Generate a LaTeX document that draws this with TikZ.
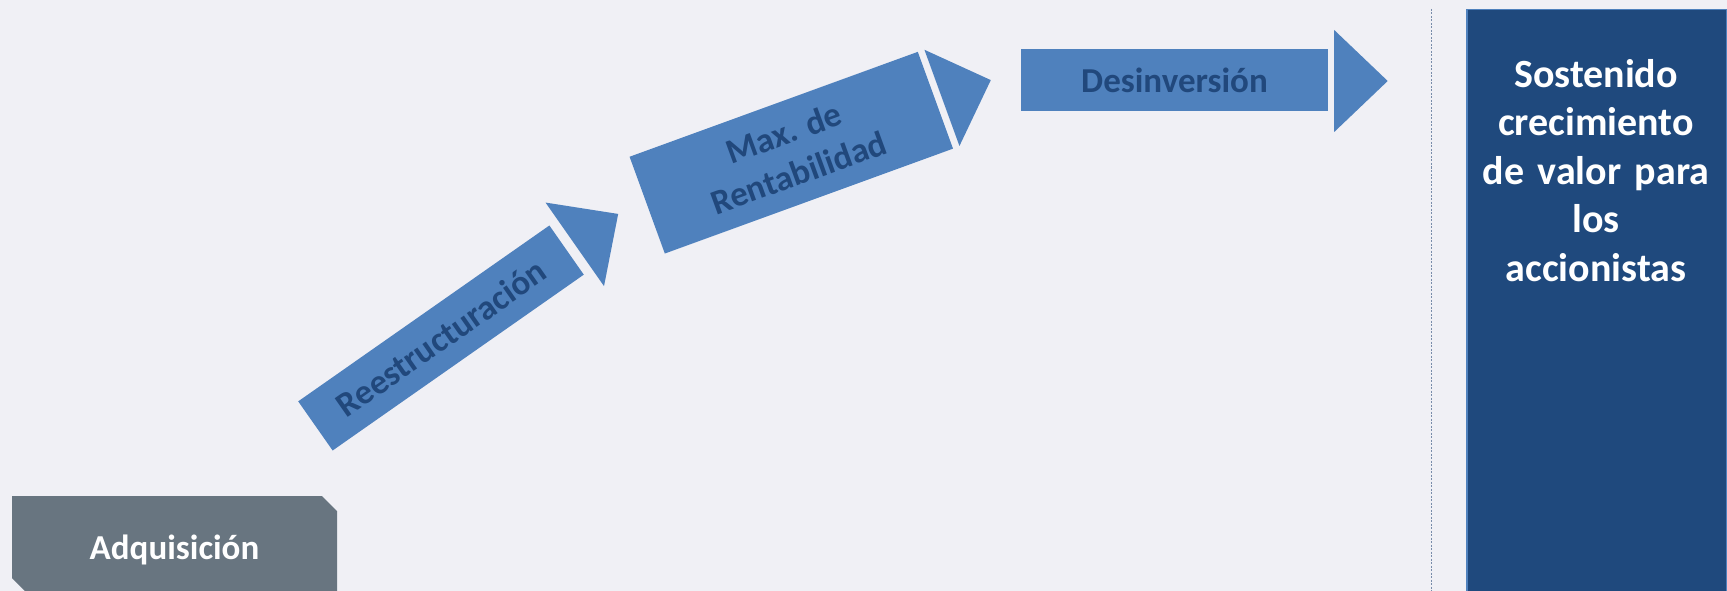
\documentclass[tikz,border=0pt]{standalone}
\usepackage{fontspec}
\setmainfont{Carlito}
\definecolor{bg}{RGB}{240,240,245}
\definecolor{arrowblue}{RGB}{79,129,189}
\definecolor{textblue}{RGB}{33,72,124}
\definecolor{navy}{RGB}{31,73,125}
\definecolor{slate}{RGB}{104,117,128}
\definecolor{dashcol}{RGB}{120,140,170}
\begin{document}
\begin{tikzpicture}[x=1pt,y=-1pt,
  arrowbody/.style={fill=arrowblue, inner sep=0pt, font=\fontsize{35}{42.5}\selectfont\bfseries, text=textblue, align=center},
  arrowhead/.style={fill=arrowblue},
  whitetext/.style={text=white, inner sep=0pt, align=center}]
\fill[bg] (0,0) rectangle (1727,591);
\useasboundingbox (0,0) rectangle (1727,591);
\clip (0,0) rectangle (1727,591);
% Adquisicion
\fill[slate] (12,496) -- (322,496) -- (337,511) -- (337,593) -- (27,593) -- (12,578) -- cycle;
\node[whitetext, font=\fontsize{35}{42.5}\selectfont\bfseries] (adq) at (174.5,550) {Adquisición};
% Reestructuracion
\node[arrowbody, minimum width=306.6pt, minimum height=60pt, rotate=35] (re) at (441,338) {Reestructuración};
\fill[arrowhead, shift={(re.center)}, rotate=35] (163.3,-51) -- (216.3,0) -- (163.3,51) -- cycle;
% Max de Rentabilidad
\node[arrowbody, minimum width=306.7pt, minimum height=103pt, rotate=20] (mx) at (791.3,152.7) {Max. de\\Rentabilidad};
\fill[arrowhead, shift={(mx.center)}, rotate=20] (160.3,-51.2) -- (212.3,0) -- (160.3,51.2) -- cycle;
% Desinversion
\node[arrowbody, minimum width=307pt, minimum height=62pt] (de) at (1174.5,80) {Desinversión};
\fill[arrowhead] ([xshift=6pt]de.east |- 0,30) -- (1387.7,81) -- ([xshift=6pt]de.east |- 0,132) -- cycle;
% dashed separator
\draw[dashcol, line width=1pt, dash pattern=on 2pt off 1.5pt] (1431,9) -- (1431,591);
% right box
\node[draw=arrowblue, line width=1.5pt, fill=navy, minimum width=260pt, minimum height=620pt, anchor=north west, inner sep=0pt] (box) at (1466,9) {};
\node[whitetext, text width=258pt, font=\fontsize{40}{48.5}\selectfont\bfseries, anchor=north] (sv) at (1596,59) {Sostenido\\crecimiento\\de valor para\\los\\accionistas};
\end{tikzpicture}
\end{document}
